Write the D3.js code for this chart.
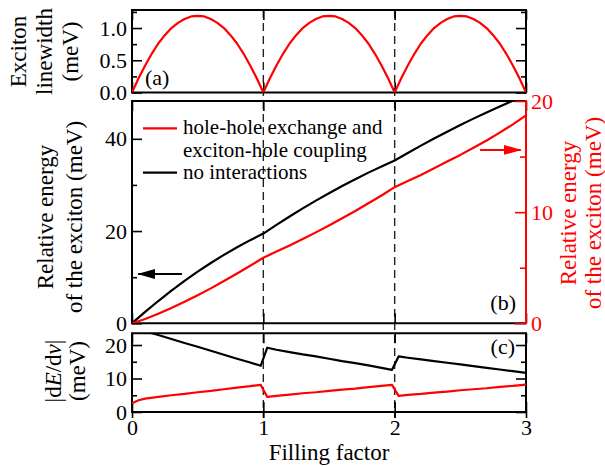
<!DOCTYPE html>
<html lang="en">
<head>
<meta charset="UTF-8">
<title>Exciton energy vs filling factor</title>
<script src="https://cdn.jsdelivr.net/npm/d3@7"></script>
<style>
  body { margin: 0; background: #fff; }
  svg, svg text { font-family: "Liberation Serif", "DejaVu Serif", serif; }
</style>
</head>
<body>
<div id="chart"></div>
<script>
// ---- values ----
// (a) exciton linewidth (meV)
var widthFill = [0, 0.05, 0.1, 0.15, 0.2, 0.25, 0.3, 0.35, 0.4, 0.45, 0.5, 0.55, 0.6, 0.65, 0.7, 0.75, 0.8, 0.85, 0.9, 0.95,
                 1, 1.05, 1.1, 1.15, 1.2, 1.25, 1.3, 1.35, 1.4, 1.45, 1.5, 1.55, 1.6, 1.65, 1.7, 1.75, 1.8, 1.85, 1.9, 1.95,
                 2, 2.05, 2.1, 2.15, 2.2, 2.25, 2.3, 2.35, 2.4, 2.45, 2.5, 2.55, 2.6, 2.65, 2.7, 2.75, 2.8, 2.85, 2.9, 2.95, 3];
var linewidth = [0, 0.22, 0.42, 0.60, 0.76, 0.89, 1.00, 1.08, 1.14, 1.18, 1.19, 1.18, 1.14, 1.08, 1.00, 0.89, 0.76, 0.60, 0.42, 0.22,
                 0, 0.22, 0.42, 0.60, 0.76, 0.89, 1.00, 1.08, 1.14, 1.18, 1.19, 1.18, 1.14, 1.08, 1.00, 0.89, 0.76, 0.60, 0.42, 0.22,
                 0, 0.22, 0.42, 0.60, 0.76, 0.89, 1.00, 1.08, 1.14, 1.18, 1.19, 1.18, 1.14, 1.08, 1.00, 0.89, 0.76, 0.60, 0.42, 0.22, 0];

// (b) relative energy of the exciton (meV)
var energyFill = [0, 0.1, 0.2, 0.3, 0.4, 0.5, 0.6, 0.7, 0.8, 0.9, 1, 1.1, 1.2, 1.3, 1.4, 1.5, 1.6, 1.7, 1.8, 1.9,
                  2, 2.1, 2.2, 2.3, 2.4, 2.5, 2.6, 2.7, 2.8, 2.9, 3];
var energyNoInt = [0, 2.47, 4.83, 7.06, 9.18, 11.19, 13.07, 14.84, 16.50, 18.03, 19.45, 21.34, 23.16, 24.91, 26.59, 28.21,
                   29.76, 31.25, 32.67, 34.02, 35.30, 36.94, 38.52, 40.06, 41.55, 42.99, 44.38, 45.72, 47.01, 48.26, 49.45];
var energyInt = [0, 0.38, 0.85, 1.37, 1.93, 2.52, 3.14, 3.80, 4.48, 5.18, 5.90, 6.45, 7.00, 7.58, 8.18, 8.80, 9.45, 10.10,
                 10.80, 11.50, 12.25, 12.80, 13.35, 13.95, 14.55, 15.15, 15.80, 16.45, 17.15, 17.90, 18.70];

// (c) |dE/dnu| (meV)
var slopeFill = [0, 0.05, 0.1, 0.2, 0.3, 0.4, 0.5, 0.6, 0.7, 0.8, 0.9, 0.98, 1.03, 1.1, 1.2, 1.3, 1.4, 1.5, 1.6, 1.7, 1.8, 1.9,
                 1.98, 2.03, 2.1, 2.2, 2.3, 2.4, 2.5, 2.6, 2.7, 2.8, 2.9, 3];
var slopeNoInt = [25.3, 24.7, 24.1, 23.0, 21.8, 20.6, 19.5, 18.3, 17.1, 15.9, 14.8, 13.8, 19.2, 18.6, 17.9, 17.2, 16.6, 15.9,
                  15.2, 14.6, 13.9, 13.2, 12.6, 16.6, 16.2, 15.7, 15.2, 14.7, 14.2, 13.7, 13.2, 12.7, 12.2, 11.7];
var slopeInt = [2.6, 3.5, 4.0, 4.5, 5.0, 5.4, 5.9, 6.3, 6.8, 7.3, 7.7, 8.1, 4.5, 4.8, 5.2, 5.6, 5.9, 6.3, 6.7, 7.0, 7.4, 7.8,
                8.1, 4.8, 5.1, 5.4, 5.8, 6.1, 6.5, 6.8, 7.1, 7.5, 7.8, 8.2];

var xTicks = [0, 1, 2, 3];
var dashedAt = [1, 2];
var legendLabels = [["hole-hole exchange and", "exciton-hole coupling"], ["no interactions"]];

// ---- layout ----
var W = 605, H = 467;
var RED = "#ff0000";
var FONT = "'Liberation Serif', 'DejaVu Serif', serif";
var x = d3.scaleLinear().domain([0, 3]).range([132, 526]);
var yA = d3.scaleLinear().domain([0, 1.28]).range([92.5, 10]);
var yB = d3.scaleLinear().domain([0, 48.2]).range([323.3, 101]);
var yB2 = d3.scaleLinear().domain([0, 20]).range([323.3, 101]);
var yC = d3.scaleLinear().domain([0, 23.5]).range([412, 333.3]);

var svg = d3.select("#chart").append("svg")
    .attr("width", W).attr("height", H)
    .attr("font-family", FONT);

var defs = svg.append("defs");
[["clipA", yA], ["clipB", yB], ["clipC", yC]].forEach(function (c) {
    var r = c[1].range();
    defs.append("clipPath").attr("id", c[0]).append("rect")
        .attr("x", x(0)).attr("y", r[1])
        .attr("width", x(3) - x(0)).attr("height", r[0] - r[1]);
});
["black", RED].forEach(function (col, i) {
    defs.append("marker").attr("id", "head" + i)
        .attr("viewBox", "0 0 18 10").attr("refX", 17).attr("refY", 5)
        .attr("markerWidth", 18).attr("markerHeight", 10)
        .attr("markerUnits", "userSpaceOnUse").attr("orient", "auto")
        .append("path").attr("d", "M0,0 L18,5 L0,10 Z").attr("fill", col);
});

// dashed lines at integer filling
svg.selectAll(".dash").data(dashedAt).enter().append("line")
    .attr("x1", function (d) { return x(d); }).attr("x2", function (d) { return x(d); })
    .attr("y1", 10).attr("y2", 418)
    .attr("stroke", "#222").attr("stroke-width", 1.4).attr("stroke-dasharray", "8,5");

function styleAxis(g, color) {
    g.attr("font-family", FONT).attr("font-size", 22);
    g.select(".domain").remove();
    g.selectAll("line").attr("stroke", color).attr("stroke-width", 1.6);
    g.selectAll("text").attr("fill", color);
}

// left + mirrored right ticks
function yTicks(scale, major, minor, fmt) {
    svg.append("g").attr("transform", "translate(" + x(0) + ",0)")
        .call(d3.axisLeft(scale).tickValues(major).tickSize(-10).tickPadding(5).tickFormat(fmt))
        .call(styleAxis, "black");
    svg.append("g").attr("transform", "translate(" + x(0) + ",0)")
        .call(d3.axisLeft(scale).tickValues(minor).tickSize(-5).tickFormat(""))
        .call(styleAxis, "black");
    svg.append("g").attr("transform", "translate(" + x(3) + ",0)")
        .call(d3.axisRight(scale).tickValues(major).tickSize(-10).tickFormat(""))
        .call(styleAxis, "black");
    svg.append("g").attr("transform", "translate(" + x(3) + ",0)")
        .call(d3.axisRight(scale).tickValues(minor).tickSize(-5).tickFormat(""))
        .call(styleAxis, "black");
}

function xTicksFor(scale, withLabels) {
    var r = scale.range();
    svg.append("g").attr("transform", "translate(0," + r[1] + ")")
        .call(d3.axisTop(x).tickValues(xTicks).tickSize(-10).tickFormat(""))
        .call(styleAxis, "black");
    svg.append("g").attr("transform", "translate(0," + r[0] + ")")
        .call(d3.axisBottom(x).tickValues(xTicks).tickSize(-10).tickFormat(""))
        .call(styleAxis, "black");
    if (withLabels) {
        svg.append("g").attr("transform", "translate(0," + r[0] + ")")
            .call(d3.axisBottom(x).tickValues(xTicks).tickSize(6).tickPadding(1).tickFormat(d3.format("d")))
            .call(styleAxis, "black");
    }
}

yTicks(yA, [0, 0.5, 1.0], [0.25, 0.75, 1.25], d3.format(".1f"));
xTicksFor(yA, false);
svg.append("g").attr("transform", "translate(" + x(0) + ",0)")
    .call(d3.axisLeft(yB).tickValues([0, 20, 40]).tickSize(-10).tickPadding(5).tickFormat(d3.format("d")))
    .call(styleAxis, "black");
svg.append("g").attr("transform", "translate(" + x(0) + ",0)")
    .call(d3.axisLeft(yB).tickValues([10, 30]).tickSize(-5).tickFormat(""))
    .call(styleAxis, "black");
xTicksFor(yB, false);
yTicks(yC, [0, 10, 20], [5, 15], d3.format("d"));
xTicksFor(yC, true);

// frames
function frame(scale, rightColor) {
    var r = scale.range();
    svg.append("path")
        .attr("d", "M" + x(3) + "," + r[1] + "H" + x(0) + "V" + r[0] + "H" + x(3))
        .attr("fill", "none").attr("stroke", "black").attr("stroke-width", 2);
    svg.append("line").attr("x1", x(3)).attr("x2", x(3)).attr("y1", r[1] - 1).attr("y2", r[0] + 1)
        .attr("stroke", rightColor).attr("stroke-width", 2);
}
frame(yA, "black");
frame(yB, RED);
frame(yC, "black");

// red right axis of (b), drawn over the frame
svg.append("g").attr("transform", "translate(" + x(3) + ",0)")
    .call(d3.axisRight(yB2).tickValues([0, 10, 20]).tickSize(-11).tickPadding(5).tickFormat(d3.format("d")))
    .call(styleAxis, RED);
svg.append("g").attr("transform", "translate(" + x(3) + ",0)")
    .call(d3.axisRight(yB2).tickValues([5, 15]).tickSize(-6).tickFormat(""))
    .call(styleAxis, RED);

// curves
function curve(xs, ys, scale, color, clip) {
    svg.append("path")
        .datum(d3.range(xs.length))
        .attr("clip-path", "url(#" + clip + ")")
        .attr("fill", "none").attr("stroke", color).attr("stroke-width", 2.2)
        .attr("stroke-linejoin", "round")
        .attr("d", d3.line()
            .x(function (i) { return x(xs[i]); })
            .y(function (i) { return scale(ys[i]); }));
}
curve(widthFill, linewidth, yA, RED, "clipA");
curve(energyFill, energyNoInt, yB, "black", "clipB");
curve(energyFill, energyInt, yB2, RED, "clipB");
curve(slopeFill, slopeNoInt, yC, "black", "clipC");
curve(slopeFill, slopeInt, yC, RED, "clipC");

// arrows pointing to each axis
svg.append("line")
    .attr("x1", x(0.38)).attr("x2", x(0.047)).attr("y1", yB(10.7)).attr("y2", yB(10.7))
    .attr("stroke", "black").attr("stroke-width", 2).attr("marker-end", "url(#head0)");
svg.append("line")
    .attr("x1", x(2.65)).attr("x2", x(2.96)).attr("y1", yB2(15.6)).attr("y2", yB2(15.6))
    .attr("stroke", RED).attr("stroke-width", 2).attr("marker-end", "url(#head1)");

// legend
var legend = svg.append("g").attr("font-size", 21).attr("font-family", FONT);
legend.append("line").attr("x1", 143).attr("x2", 177).attr("y1", 128.3).attr("y2", 128.3)
    .attr("stroke", RED).attr("stroke-width", 2.2);
legend.append("line").attr("x1", 143).attr("x2", 177).attr("y1", 172.7).attr("y2", 172.7)
    .attr("stroke", "black").attr("stroke-width", 2.2);
legend.append("text").attr("x", 183).attr("y", 134).text(legendLabels[0][0]);
legend.append("text").attr("x", 183).attr("y", 157).text(legendLabels[0][1]);
legend.append("text").attr("x", 183).attr("y", 179).text(legendLabels[1][0]);

// panel tags
svg.append("text").attr("x", 145).attr("y", 85).attr("font-size", 22).text("(a)");
svg.append("text").attr("x", 516).attr("y", 310).attr("font-size", 22).attr("text-anchor", "end").text("(b)");
svg.append("text").attr("x", 515).attr("y", 354).attr("font-size", 22).attr("text-anchor", "end").text("(c)");

// axis titles
function vtitle(lines, xs, cy, color) {
    lines.forEach(function (t, i) {
        var el = svg.append("text")
            .attr("transform", "translate(" + xs[i] + "," + cy + ") rotate(-90)")
            .attr("text-anchor", "middle").attr("font-size", 23).attr("fill", color);
        if (typeof t === "string") el.text(t);
        else t.forEach(function (p) {
            el.append("tspan").attr("font-style", p[1] ? "italic" : null).text(p[0]);
        });
    });
}
vtitle(["Exciton", "linewidth", "(meV)"], [26, 52, 78], 51.5, "black");
vtitle(["Relative energy", "of the exciton (meV)"], [53, 82], 217, "black");
vtitle(["Relative energy", "of the exciton (meV)"], [576, 601], 213, RED);
vtitle([[["|d", 0], ["E", 1], ["/d", 0], ["ν", 1], ["|", 0]], "(meV)"], [61, 85], 371, "black");

svg.append("text").attr("x", x(1.5)).attr("y", 460).attr("text-anchor", "middle")
    .attr("font-size", 23).text("Filling factor");
</script>
</body>
</html>
